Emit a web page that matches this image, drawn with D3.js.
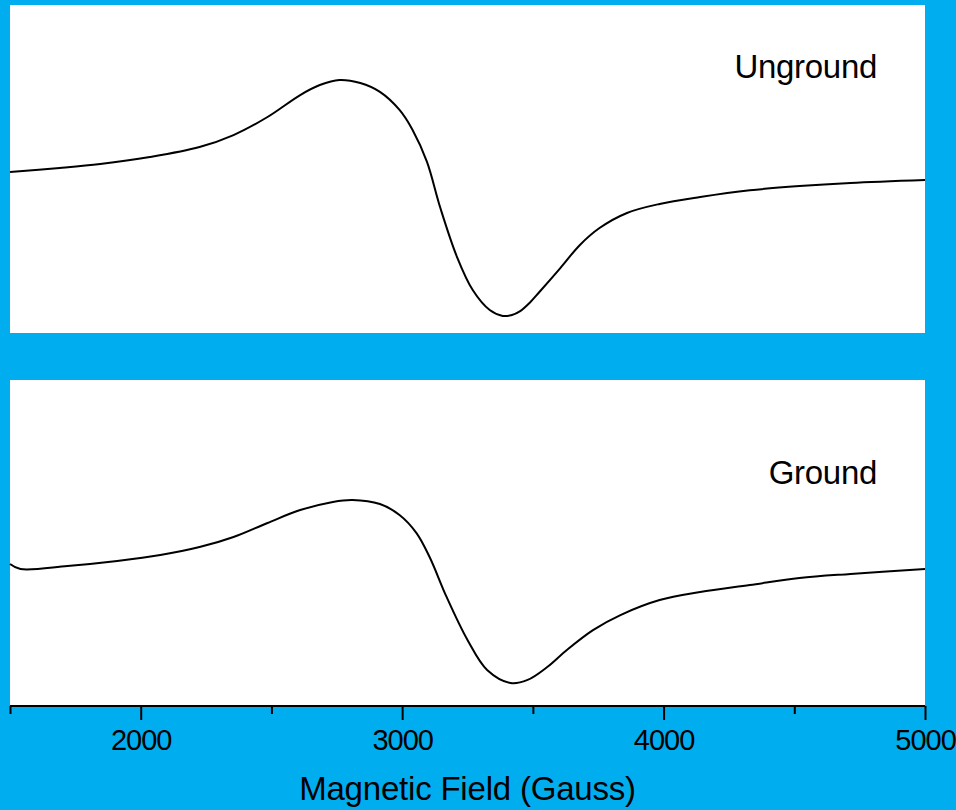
<!DOCTYPE html>
<meta charset="utf-8">
<head>
    <title>EPR spectra</title>
    <script src="https://cdn.jsdelivr.net/npm/d3@7/dist/d3.min.js"></script>
    <style>
        body { margin: 0; background: #00aeef; }
        text { font-family: "Liberation Sans", Arial, sans-serif; fill: #000; }
    </style>
</head>
<body>
    <div id="chart"></div>
    <script>
        // magnetic field (Gauss) and signal (arbitrary units)
        var ungroundField = [1500, 1690, 1845, 2035, 2225, 2355, 2485, 2610, 2685, 2760, 2840, 2915,
            2990, 3040, 3095, 3145, 3210, 3270, 3335, 3385, 3420, 3450, 3490, 3525, 3605, 3680, 3755,
            3860, 3985, 4140, 4330, 4520, 4715, 5000];
        var ungroundSignal = [-0.018, 0.006, 0.030, 0.073, 0.134, 0.207, 0.317, 0.451, 0.512, 0.543,
            0.524, 0.470, 0.360, 0.238, 0.043, -0.232, -0.537, -0.738, -0.860, -0.896, -0.890, -0.868,
            -0.812, -0.750, -0.604, -0.463, -0.360, -0.268, -0.213, -0.171, -0.130, -0.104, -0.085, -0.067];

        var groundField = [1500, 1540, 1720, 1910, 2075, 2225, 2355, 2485, 2610, 2735, 2810, 2915,
            2990, 3055, 3105, 3170, 3250, 3325, 3415, 3480, 3555, 3630, 3730, 3835, 3985, 4140,
            4330, 4520, 4715, 5000];
        var groundSignal = [-0.129, -0.160, -0.141, -0.110, -0.074, -0.025, 0.037, 0.123, 0.202, 0.252,
            0.264, 0.239, 0.172, 0.061, -0.086, -0.331, -0.595, -0.779, -0.859, -0.840, -0.761,
            -0.656, -0.534, -0.442, -0.350, -0.301, -0.258, -0.215, -0.190, -0.160];

        var majorTicks = [2000, 3000, 4000, 5000];
        var minorTicks = [1500, 2500, 3500, 4500];
        var panelLabels = ["Unground", "Ground"];

        var width = 956, height = 810;
        var left = 10, right = 925;

        var svg = d3.select("#chart").append("svg")
            .attr("width", width)
            .attr("height", height);

        svg.append("rect").attr("width", width).attr("height", height).attr("fill", "#00aeef");

        var x = d3.scaleLinear().domain([1500, 5000]).range([left, right]);

        // two stacked panels
        var panels = [
            { top: 5, bottom: 333, field: ungroundField, signal: ungroundSignal, label: panelLabels[0], labelY: 78 },
            { top: 380, bottom: 706, field: groundField, signal: groundSignal, label: panelLabels[1], labelY: 484 }
        ];

        panels.forEach(function(p) {
            var y = d3.scaleLinear().domain([-1, 1]).range([p.bottom, p.top]);

            svg.append("rect")
                .attr("x", left)
                .attr("y", p.top)
                .attr("width", right - left)
                .attr("height", p.bottom - p.top)
                .attr("fill", "#fff");

            var pts = p.field.map(function(f, i) { return [f, p.signal[i]]; });
            var line = d3.line()
                .x(function(d) { return x(d[0]); })
                .y(function(d) { return y(d[1]); })
                .curve(d3.curveCatmullRom.alpha(0.5));

            svg.append("path")
                .datum(pts)
                .attr("d", line)
                .attr("fill", "none")
                .attr("stroke", "#000")
                .attr("stroke-width", 2);

            svg.append("text")
                .attr("x", 877)
                .attr("y", p.labelY)
                .attr("text-anchor", "end")
                .style("font-size", "33px")
                .style("letter-spacing", "-0.3px")
                .text(p.label);
        });

        // x axis under the lower panel
        var axisY = 706;
        var minorAxis = d3.axisBottom(x).tickValues(minorTicks).tickSize(8).tickFormat("");
        var majorAxis = d3.axisBottom(x).tickValues(majorTicks).tickSize(14).tickPadding(9)
            .tickFormat(d3.format("d"));

        var gMinor = svg.append("g").attr("transform", "translate(0," + axisY + ")").call(minorAxis);
        var gMajor = svg.append("g").attr("transform", "translate(0," + axisY + ")").call(majorAxis);

        [gMinor, gMajor].forEach(function(g) {
            g.select(".domain").attr("stroke", "#000").attr("stroke-width", 2).attr("d", "M" + left + ",0H" + right);
            g.selectAll(".tick line").attr("stroke", "#000").attr("stroke-width", 2);
        });
        gMajor.selectAll(".tick text")
            .style("font-size", "29px")
            .style("letter-spacing", "-1px")
            .attr("fill", "#000");

        svg.append("text")
            .attr("x", (left + right) / 2)
            .attr("y", 800)
            .attr("text-anchor", "middle")
            .style("font-size", "33px")
            .style("letter-spacing", "-0.2px")
            .text("Magnetic Field (Gauss)");
    </script>
</body>
</html>
